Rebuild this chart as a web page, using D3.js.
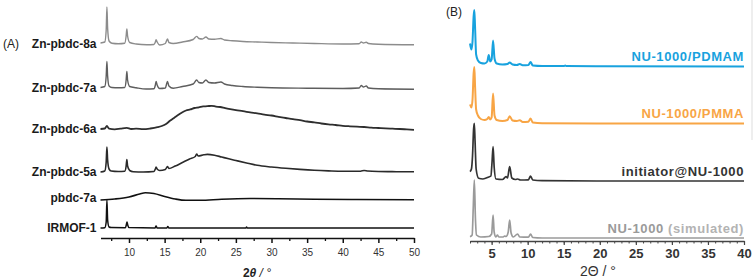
<!DOCTYPE html>
<html>
<head>
<meta charset="utf-8">
<script src="https://cdn.jsdelivr.net/npm/d3@7"></script>
<style>
  body { margin: 0; background: #fff; }
  text { font-family: "Liberation Sans", Arial, sans-serif; }
</style>
</head>
<body>
<div id="chart"></div>
<script>
// ---- panel A data: [2theta, intensity above own baseline] ----
const zn8a = [[6,1],[6.6,2],[6.8,14],[6.9,37],[7.0,16],[7.2,3],[7.6,0.8],[8.5,0.3],[9.4,0.8],[9.6,8],[9.7,15],[9.8,8],[10.1,1.5],[11,0],[12.5,-0.8],[13.5,-0.5],[13.7,2],[13.8,4.3],[13.95,2],[14.3,-1],[15.1,0.5],[15.4,5],[15.6,1.5],[16.2,0.5],[17.5,2],[19,4.5],[19.5,7.6],[19.8,5.5],[20.3,5],[20.8,7],[21.2,5],[22,4.8],[22.9,5.5],[23.4,4],[24.5,3.2],[26,2.5],[28,2],[30,1.5],[33,1],[36,0.5],[40,0],[42.3,0.3],[42.6,2],[42.9,1],[43.3,1.7],[43.6,0.5],[45,-0.3],[50,-0.8]];
const zn7a = [[6,0.5],[6.6,1.5],[6.8,12],[6.9,26.6],[7.0,12],[7.2,2],[7.6,0.5],[8.5,0.2],[9.4,0.5],[9.6,8],[9.7,16.6],[9.8,8],[10.1,1.5],[11,0.3],[12.4,-1],[13.5,-0.8],[13.7,3],[13.8,6.5],[13.95,3],[14.3,-0.5],[15.1,0],[15.4,6.5],[15.6,2],[16.2,-0.3],[17.5,1.5],[19,4],[19.5,8],[19.8,5.5],[20.3,5],[20.8,8],[21.2,5.5],[22,5],[22.9,6],[23.4,4],[24.5,2.5],[26,1.5],[28,0.8],[30,0.3],[35,-0.2],[40,-0.5],[42.3,0],[42.6,2.5],[42.9,1],[43.3,2],[43.6,0],[45,-0.8],[50,-1.2]];
const zn6a = [[6,0],[6.6,0.5],[6.9,3],[7.2,0.3],[8,-0.3],[8.8,0.4],[9.7,1.2],[10.3,0],[11,0.3],[12,-0.2],[13,0.5],[14,1.8],[14.6,3],[15.2,5],[15.8,8.5],[16.4,11.5],[17,14.5],[17.5,16.8],[18,18.5],[18.6,19.6],[19.2,21],[19.8,21.6],[20.4,22.6],[21,22.8],[21.6,23.2],[22.2,22.4],[22.8,22],[23.5,20.8],[24.2,19.8],[25,18.8],[26,17.8],[27,16.6],[28,15.6],[29,14.4],[30,13.5],[31,12.2],[32,11],[33,9.8],[34,8.8],[35,7.5],[36,6.6],[37,5.5],[38,4.6],[39,4],[40,3.2],[41,2.7],[42,2.3],[43,2],[44,1.4],[45,1],[46,0.6],[47,0.3],[48,0],[49,-0.4],[50,-0.8]];
const zn5a = [[6,0],[6.6,1],[6.8,10],[6.9,25],[7.0,12],[7.2,3],[7.5,1],[8.5,0.5],[9.4,0.8],[9.6,6],[9.7,12.4],[9.8,6],[10.1,1.5],[10.6,0.3],[12,0],[13.5,0.5],[13.7,3],[13.8,5],[13.95,3],[14.3,1.5],[15.1,2.5],[15.4,5.5],[15.6,3.5],[16.5,6],[17.5,9.5],[18.5,13],[19.3,15.5],[19.5,18],[19.7,16],[20.5,17.2],[21,17.6],[22,16.8],[23,15],[24,13.2],[25,11.5],[26.5,9],[28,6.7],[30,5],[32,3.7],[34,2.6],[36,1.7],[38,1.1],[40,0.7],[42.5,0.8],[43,1.5],[43.5,1],[45,0.5],[47.5,0.3],[50,0.2]];
const pbdc7a = [[6,0],[8,1],[10,3],[11.5,6],[12.3,7.3],[13.5,6.5],[15,3.5],[16.5,1],[18,-0.3],[20,-0.3],[23,0.8],[27,1.5],[31,1.3],[36,0.8],[42,0.5],[50,0.3]];
const irmof1 = [[6,0],[6.6,0.3],[6.8,6],[6.9,28],[7.0,8],[7.2,1],[7.5,0.4],[9.5,0.3],[9.62,3],[9.72,6],[9.82,3],[10,0.4],[13.65,0],[13.8,2],[13.95,0],[15.3,0],[15.45,1.5],[15.6,0],[26.4,0],[26.5,1],[26.6,0],[50,0]];

const namesA = ["Zn-pbdc-8a", "Zn-pbdc-7a", "Zn-pbdc-6a", "Zn-pbdc-5a", "pbdc-7a", "IRMOF-1"];
const offsetsA = [194, 150, 109, 66, 38, 10];
const ticksA = [10, 15, 20, 25, 30, 35, 40, 45, 50];
const minorTicksA = [7.5, 12.5, 17.5, 22.5, 27.5, 32.5, 37.5, 42.5, 47.5];

// ---- panel B data ----
const pdmam = [[2.0,23],[2.2,17],[2.35,25],[2.5,50],[2.6,56.5],[2.7,40],[2.85,12],[3.1,6],[3.5,3.5],[4.0,3],[4.4,5],[4.6,11.5],[4.8,5],[5.0,7],[5.2,26],[5.4,8],[5.7,3],[6.5,2],[7.2,2.5],[7.5,4],[7.9,2],[8.5,1.5],[8.9,2.5],[9.3,1.2],[10.1,1.5],[10.4,4.5],[10.7,1],[12,0.5],[15,0.5],[15.2,0.9],[15.4,0.4],[20,0.2],[40,0]];
const pmma = [[2.0,19],[2.2,16],[2.35,24],[2.5,50],[2.6,56.6],[2.7,38],[2.85,14],[3.1,8],[3.5,4.5],[4.0,3.5],[4.4,4.5],[4.6,6.6],[4.8,4],[5.0,6],[5.2,30],[5.4,8],[5.7,3.5],[6.5,2.5],[7.2,3.5],[7.5,7.3],[7.9,3],[8.5,2.5],[8.9,3.3],[9.3,1.5],[10.1,1.8],[10.4,5],[10.7,1],[12,0.3],[20,0],[40,0]];
const initiator = [[2.0,9.3],[2.2,12],[2.35,25],[2.5,52],[2.6,57.7],[2.7,40],[2.85,12],[3.2,2.7],[3.8,2],[4.6,4],[4.9,5],[5.05,18],[5.2,34.3],[5.35,14],[5.6,2],[6.5,1.5],[7.0,4.3],[7.2,3],[7.5,14.3],[7.8,3],[8.3,1.5],[8.6,2],[9.0,1],[10.1,1.2],[10.4,5],[10.7,1],[12,0.3],[20,0],[40,0]];
const simulated = [[2.0,1.3],[2.3,3],[2.45,30],[2.6,58],[2.75,20],[2.9,3],[3.5,1],[4.6,1.5],[5.0,4],[5.2,23],[5.35,6],[5.6,1],[5.8,3],[6.0,1],[6.6,1],[6.8,2],[7.0,1.5],[7.3,6],[7.5,18],[7.7,5],[8.0,1],[8.6,4],[8.9,1],[10.1,0.8],[10.4,4],[10.7,0.5],[12,0],[40,0]];

const namesB = ["NU-1000/PDMAM", "NU-1000/PMMA", "initiator@NU-1000", "NU-1000"];
const offsetsB = [174.5, 117.5, 60, 3];
const colorsB = ["#18a2de", "#f8a545", "#333333", "#9a9a9a"];
const ticksB = [5, 10, 15, 20, 25, 30, 35, 40];
const minorTicksB = d3.range(2, 41);

const width = 754, height = 279;

const svg = d3.select("#chart")
  .append("svg")
  .attr("width", width)
  .attr("height", height);

// ================= panel A =================
const axisYA = 238;
const xA = d3.scaleLinear().domain([6, 50]).range([100.5, 414]);
const yA = d3.scaleLinear().domain([0, 238]).range([axisYA, 0]);

const seriesA = [
  { data: zn8a, color: "#8c8c8c", w: 1.4 },
  { data: zn7a, color: "#5e5e5e", w: 1.4 },
  { data: zn6a, color: "#2e2e2e", w: 1.8 },
  { data: zn5a, color: "#2a2a2a", w: 1.6 },
  { data: pbdc7a, color: "#111", w: 1.6 },
  { data: irmof1, color: "#111", w: 1.5 }
];

seriesA.forEach((s, i) => {
  const line = d3.line()
    .x(d => xA(d[0]))
    .y(d => yA(d[1] + offsetsA[i]))
    .curve(d3.curveMonotoneX);
  svg.append("path")
    .datum(s.data)
    .attr("fill", "none")
    .attr("stroke", s.color)
    .attr("stroke-width", s.w)
    .attr("stroke-linejoin", "round")
    .attr("d", line);

  svg.append("text")
    .attr("x", 96.5)
    .attr("y", yA(offsetsA[i]) + (i == 4 ? -2 : 0))
    .attr("dy", "0.35em")
    .style("text-anchor", "end")
    .style("font-size", "12px")
    .style("font-weight", "bold")
    .style("fill", "#1a1a1a")
    .text(namesA[i]);
});

// axes A
svg.append("g")
  .attr("transform", `translate(0, ${axisYA})`)
  .call(d3.axisBottom(xA).tickValues(minorTicksA).tickSize(3).tickFormat(""))
  .call(g => g.select(".domain").remove())
  .selectAll("line").attr("stroke", "#111").attr("stroke-width", 1.3);

const axA = svg.append("g")
  .attr("transform", `translate(0, ${axisYA})`)
  .call(d3.axisBottom(xA).tickValues(ticksA).tickSize(5).tickSizeOuter(0).tickPadding(6));
axA.select(".domain").attr("stroke", "#111").attr("stroke-width", 1.5);
axA.selectAll(".tick line").attr("stroke", "#111").attr("stroke-width", 1.5);
axA.selectAll(".tick text")
  .style("font-family", "Liberation Sans, Arial, sans-serif")
  .style("font-size", "10px")
  .style("fill", "#333");

const titleA = svg.append("text")
  .attr("x", 257)
  .attr("y", 277)
  .style("text-anchor", "middle")
  .style("font-size", "12px")
  .style("fill", "#222");
titleA.append("tspan").style("font-weight", "bold").text("2");
titleA.append("tspan").style("font-weight", "bold").style("font-style", "italic").text("θ");
titleA.append("tspan").style("font-style", "italic").text(" / °");

svg.append("text")
  .attr("x", 3)
  .attr("y", 44)
  .attr("dy", "0.35em")
  .style("font-size", "12px")
  .style("fill", "#222")
  .text("(A)");

// ================= panel B =================
const axisYB = 241;
const xB = d3.scaleLinear().domain([2, 40]).range([470, 744]);
const yB = d3.scaleLinear().domain([0, 241]).range([axisYB, 0]);

[pdmam, pmma, initiator, simulated].forEach((data, i) => {
  const line = d3.line()
    .x(d => xB(d[0]))
    .y(d => yB(d[1] + offsetsB[i]))
    .curve(d3.curveMonotoneX);
  svg.append("path")
    .datum(data)
    .attr("fill", "none")
    .attr("stroke", colorsB[i])
    .attr("stroke-width", i < 2 ? 2 : 1.7)
    .attr("stroke-linejoin", "round")
    .attr("d", line);
});

const labelYB = [10, 10, 10, 10];
namesB.forEach((name, i) => {
  const t = svg.append("text")
    .attr("x", 744)
    .attr("y", yB(offsetsB[i] + labelYB[i]))
    .attr("dy", "0.35em")
    .style("text-anchor", "end")
    .style("font-size", "13px")
    .style("font-weight", "bold")
    .style("letter-spacing", "0.6px")
    .style("fill", colorsB[i]);
  t.append("tspan").text(name);
  if (i == 3) {
    t.append("tspan").style("fill", "#b3b3b3").text(" (simulated)");
  }
});

svg.append("g")
  .attr("transform", `translate(0, ${axisYB})`)
  .call(d3.axisBottom(xB).tickValues(minorTicksB).tickSize(2.5).tickFormat(""))
  .call(g => g.select(".domain").remove())
  .selectAll("line").attr("stroke", "#444").attr("stroke-width", 1);

const axB = svg.append("g")
  .attr("transform", `translate(0, ${axisYB})`)
  .call(d3.axisBottom(xB).tickValues(ticksB).tickSize(4).tickSizeOuter(0).tickPadding(4));
axB.select(".domain").attr("stroke", "#444").attr("stroke-width", 1.3);
axB.selectAll(".tick line").attr("stroke", "#444").attr("stroke-width", 1.2);
axB.selectAll(".tick text")
  .style("font-family", "Liberation Sans, Arial, sans-serif")
  .style("font-size", "13px")
  .style("font-weight", "bold")
  .style("fill", "#333");

svg.append("text")
  .attr("x", 598)
  .attr("y", 276)
  .style("text-anchor", "middle")
  .style("font-size", "14px")
  .style("fill", "#333")
  .text("2Θ / °");

svg.append("text")
  .attr("x", 446)
  .attr("y", 12)
  .attr("dy", "0.35em")
  .style("font-size", "12px")
  .style("fill", "#222")
  .text("(B)");

// faint frame edge at the right
svg.append("line")
  .attr("x1", 752).attr("x2", 752)
  .attr("y1", 0).attr("y2", 140)
  .attr("stroke", "#ddd");
</script>
</body>
</html>
